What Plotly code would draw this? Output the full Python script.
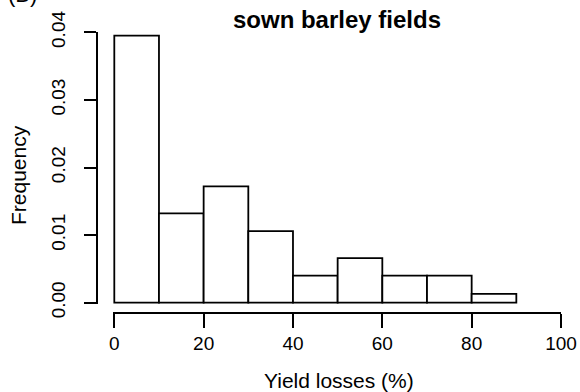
import plotly.graph_objects as go

# Data (histogram of yield losses, bin width 10)
bin_starts = [0, 10, 20, 30, 40, 50, 60, 70, 80]
frequencies = [0.0395, 0.0132, 0.0172, 0.0106, 0.0040, 0.0066, 0.0040, 0.0040, 0.0013]
x_ticks = [0, 20, 40, 60, 80, 100]
y_ticks = [0.00, 0.01, 0.02, 0.03, 0.04]
y_tick_labels = ["0.00", "0.01", "0.02", "0.03", "0.04"]

W, H = 580, 392
FONT = "Liberation Sans, Arial, Helvetica, sans-serif"

# pixel layout targets
x0_px, x100_px = 114.3, 561.0
y0_px, y04_px = 302.7, 32.3
xr = [-0.3, 100]
yr = [-0.00018, 0.04]
ppx = (x100_px - x0_px) / 100.0
ppy = (y0_px - y04_px) / 0.04
dom_x = [(x0_px + xr[0] * ppx) / W, x100_px / W]
dom_y = [1 - (y0_px - yr[0] * ppy) / H, 1 - y04_px / H]

centers = [b + 5 for b in bin_starts]

fig = go.Figure(go.Bar(
    x=centers, y=frequencies, width=10,
    marker=dict(color="white", line=dict(color="black", width=1.8)),
    hoverinfo="skip",
))

fig.update_layout(
    width=W, height=H,
    margin=dict(l=0, r=0, t=0, b=0),
    paper_bgcolor="white", plot_bgcolor="white",
    showlegend=False,
    font=dict(family=FONT, color="black"),
    xaxis=dict(
        domain=dom_x, range=xr, anchor="free", position=1 - 312.7 / H,
        showline=True, linecolor="black", linewidth=1.8,
        ticks="outside", ticklen=14, tickwidth=1.8, tickcolor="black",
        tickvals=x_ticks, ticktext=[str(v) for v in x_ticks],
        tickfont=dict(size=19), showgrid=False, zeroline=False,
        automargin=False, fixedrange=True,
    ),
    yaxis=dict(
        domain=dom_y, range=yr, anchor="free", position=96.7 / W,
        showline=True, linecolor="black", linewidth=1.8,
        ticks="outside", ticklen=12, tickwidth=1.8, tickcolor="black",
        tickvals=y_ticks, ticktext=y_tick_labels, tickangle=-90,
        ticklabelstandoff=11,
        tickfont=dict(size=19), showgrid=False, zeroline=False,
        automargin=False, fixedrange=True,
    ),
    title=dict(
        text="<b>sown barley fields</b>", x=337 / W, xanchor="center",
        y=1 - 20 / H, yanchor="middle", yref="container",
        font=dict(size=24, family=FONT, color="black"),
    ),
    annotations=[
        dict(text="Frequency", textangle=-90, xref="paper", yref="paper",
             x=18 / W, y=1 - 175 / H, xanchor="center", yanchor="middle",
             showarrow=False, font=dict(size=21)),
        dict(text="Yield losses (%)", xref="paper", yref="paper",
             x=339 / W, y=1 - 380 / H, xanchor="center", yanchor="middle",
             showarrow=False, font=dict(size=21)),
        dict(text="(B)", xref="paper", yref="paper",
             x=6 / W, y=1 - 9 / H, xanchor="left", yanchor="bottom",
             showarrow=False, font=dict(size=22)),
    ],
)

fig.write_html(
    "out.html",
    config={"displayModeBar": False},
    post_script="document.body.style.margin='0';document.body.style.padding='0';"
                "document.body.style.overflow='hidden';",
)
